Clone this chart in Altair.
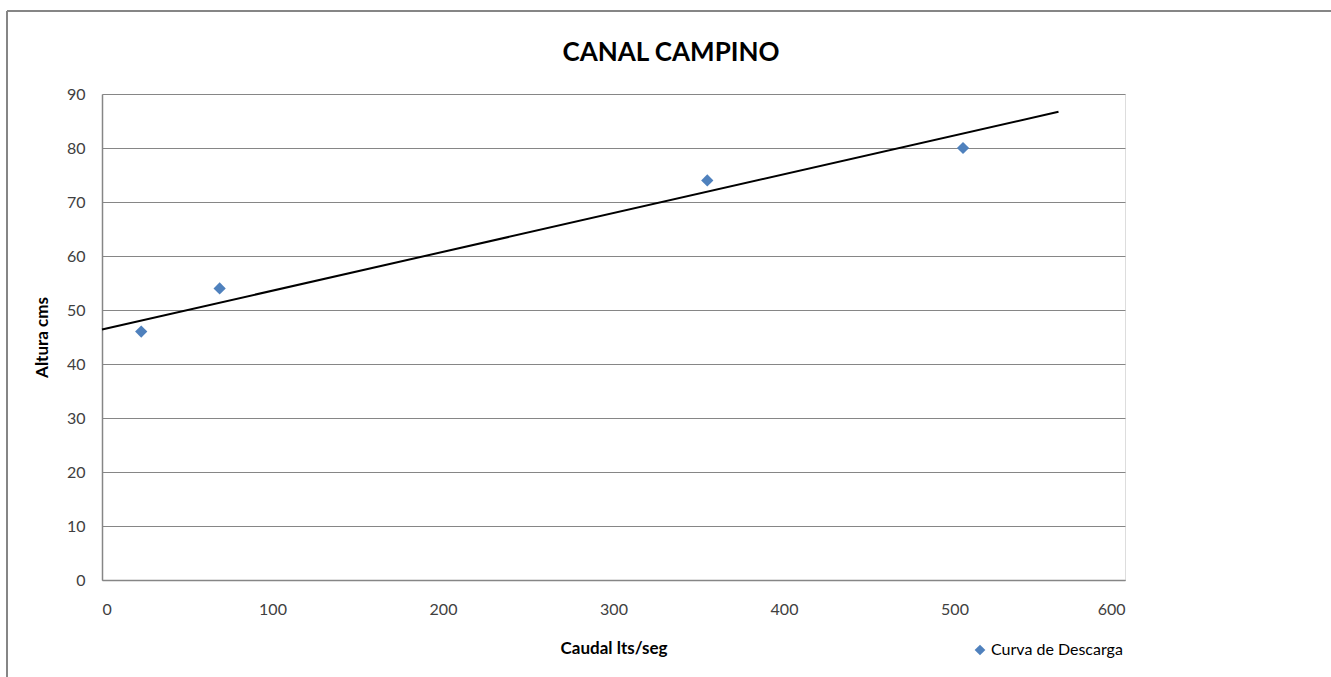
import altair as alt
import pandas as pd

# Measured discharge points
caudal = [23, 69, 355, 505]
altura = [46, 54, 74, 80]
serie = ["Curva de Descarga"] * 4

# Linear trend line end points
trend_x = [0, 561]
trend_y = [46.4, 86.7]

x_ticks = [0, 100, 200, 300, 400, 500, 600]
y_ticks = [0, 10, 20, 30, 40, 50, 60, 70, 80, 90]

chart_title = ["CANAL CAMPINO"]

points_df = pd.DataFrame({"caudal": caudal, "altura": altura, "serie": serie})
trend_df = pd.DataFrame({"caudal": trend_x, "altura": trend_y})
title_df = pd.DataFrame({"texto": chart_title})

W, H = 1023, 486
PAD_L, PAD_T = 102, 94
FONT = "Lato"

x_scale = alt.Scale(domain=[0, 600], nice=False, zero=True)
y_scale = alt.Scale(domain=[0, 90], nice=False)

x_axis = alt.Axis(
    title="Caudal lts/seg", values=x_ticks, grid=False, ticks=False,
    labelPadding=21, labelFontSize=16, labelColor="#404040", labelFont=FONT,
    titleFont=FONT, titleFontSize=17, titleFontWeight="bold", titleColor="#000000",
    titlePadding=23, domainColor="#868686", domainWidth=1.5,
)
y_axis = alt.Axis(
    title="Altura cms", values=y_ticks, grid=True, gridColor="#868686", gridWidth=1,
    ticks=False, labelPadding=17, labelFontSize=16, labelColor="#404040", labelFont=FONT,
    titleFont=FONT, titleFontSize=17, titleFontWeight="bold", titleColor="#000000",
    titlePadding=15, domainColor="#868686", domainWidth=1.5,
)

trend = alt.Chart(trend_df).mark_line(color="#000000", strokeWidth=2).encode(
    x=alt.X("caudal:Q", scale=x_scale, axis=x_axis),
    y=alt.Y("altura:Q", scale=y_scale, axis=y_axis),
)

points = alt.Chart(points_df).mark_point(
    shape="diamond", filled=True, size=150, opacity=1
).encode(
    x=alt.X("caudal:Q", scale=x_scale),
    y=alt.Y("altura:Q", scale=y_scale),
    color=alt.Color(
        "serie:N",
        scale=alt.Scale(range=["#4F81BD"]),
        legend=alt.Legend(
            title=None, orient="none", legendX=870, legendY=548,
            symbolType="diamond", symbolSize=115, symbolOpacity=1,
            labelFont=FONT, labelFontSize=16, labelColor="#000000",
            labelOffset=3, padding=0,
        ),
    ),
)

# Chart title, centred over the whole frame
title = alt.Chart(title_df).mark_text(
    font=FONT, fontSize=26, fontWeight="bold", color="#000000",
    align="center", baseline="middle",
).encode(
    x=alt.value(671 - PAD_L), y=alt.value(53 - PAD_T), text="texto:N"
)

# Outer chart frame (left and top edges)
frame_left = alt.Chart(trend_df).mark_rule(color="#868686", strokeWidth=2, clip=False).encode(
    x=alt.value(7 - PAD_L), y=alt.value(11 - PAD_T), y2=alt.value(677 - PAD_T + 10)
)
frame_top = alt.Chart(trend_df).mark_rule(color="#868686", strokeWidth=2, clip=False).encode(
    x=alt.value(7 - PAD_L), x2=alt.value(1331 - PAD_L + 10), y=alt.value(11 - PAD_T)
)

chart = alt.layer(frame_left, frame_top, title, trend, points).properties(
    width=W, height=H,
    padding={"left": PAD_L, "top": PAD_T, "right": 1331 - PAD_L - W, "bottom": 677 - PAD_T - H},
    autosize=alt.AutoSizeParams(type="none"),
).configure_view(stroke=None).configure(background="#ffffff")

chart.save("out.html", embed_options={"renderer": "svg", "actions": False})
